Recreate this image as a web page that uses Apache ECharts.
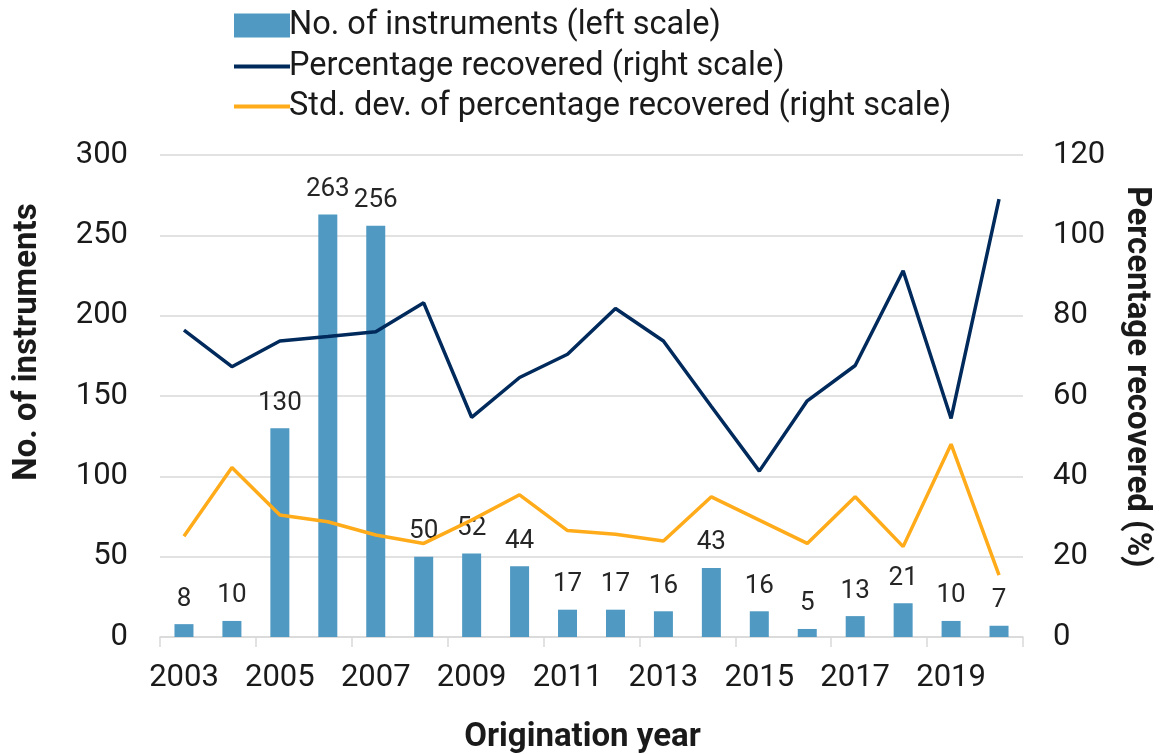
<!DOCTYPE html>
<html>
<head>
<meta charset="utf-8">
<title>Instruments and recovery by origination year</title>
<script src="https://cdn.jsdelivr.net/npm/echarts@6/dist/echarts.min.js"></script>
<style>
  html, body { margin: 0; padding: 0; background: #ffffff; }
  #chart { width: 1160px; height: 754px; }
</style>
</head>
<body>
<div id="chart"></div>
<script>
// Origination years
const years = ['2003','2004','2005','2006','2007','2008','2009','2010','2011',
               '2012','2013','2014','2015','2016','2017','2018','2019','2020'];

// Number of instruments (left scale)
const instruments = [8, 10, 130, 263, 256, 50, 52, 44, 17, 17, 16, 43, 16, 5, 13, 21, 10, 7];

// Percentage recovered (right scale, %)
const recovered = [76.4, 67.3, 73.7, 74.8, 76.0, 83.2, 54.7, 64.6, 70.4,
                   81.8, 73.7, 57.4, 41.3, 58.8, 67.6, 91.2, 54.4, 109.0];

// Standard deviation of percentage recovered (right scale, %)
const recoveredStdDev = [25.1, 42.2, 30.4, 28.7, 25.4, 23.3, 29.1, 35.4, 26.5,
                         25.6, 23.9, 34.9, 29.1, 23.3, 34.9, 22.5, 48.0, 15.4];

const seriesNames = [
  'No. of instruments (left scale)',
  'Percentage recovered (right scale)',
  'Std. dev. of percentage recovered (right scale)'
];

const FONT = 'Roboto, "Noto Sans", sans-serif';
const GRID_COLOR = '#d9d9d9';
const TEXT_COLOR = '#1a1a1a';
const BAR_COLOR = '#4f99c2';
const NAVY = '#002a5c';
const AMBER = '#ffab1a';

const legendText = { fontSize: 32.5, color: TEXT_COLOR, fontFamily: FONT, padding: [0, 0, 0, -6] };

const chart = echarts.init(document.getElementById('chart'), null, { renderer: 'canvas' });

chart.setOption({
  animation: false,
  backgroundColor: '#ffffff',
  textStyle: { fontFamily: FONT },
  legend: [
    {
      // bar entry: filled block
      orient: 'vertical',
      left: 229,
      top: 4,
      itemWidth: 56,
      itemHeight: 24,
      textStyle: legendText,
      data: [{ name: seriesNames[0], icon: 'rect' }]
    },
    {
      // line entries: flat strokes
      orient: 'vertical',
      left: 229,
      top: 45,
      itemWidth: 56,
      itemHeight: 4,
      itemGap: 7,
      textStyle: legendText,
      data: [
        { name: seriesNames[1], icon: 'rect' },
        { name: seriesNames[2], icon: 'rect' }
      ]
    }
  ],
  grid: {
    left: 160, right: 137, top: 155, bottom: 117,
    containLabel: false,
    outerBoundsMode: 'none'
  },
  xAxis: {
    type: 'category',
    data: years,
    name: 'Origination year',
    nameLocation: 'middle',
    nameGap: 84,
    nameTextStyle: { fontSize: 33, fontWeight: 'bold', color: TEXT_COLOR, padding: [0, 18, 0, 0] },
    axisLine: { lineStyle: { color: GRID_COLOR, width: 1.5 } },
    axisTick: { show: true, alignWithLabel: false, length: 10, lineStyle: { color: GRID_COLOR, width: 1.5 } },
    axisLabel: { interval: 1, fontSize: 31, color: TEXT_COLOR, margin: 26 }
  },
  yAxis: [
    {
      type: 'value',
      min: 0, max: 300, interval: 50,
      name: 'No. of instruments',
      nameLocation: 'middle',
      nameGap: 116,
      nameTextStyle: { fontSize: 33, fontWeight: 'bold', color: TEXT_COLOR, padding: [0, 0, 0, 108] },
      axisLine: { show: false },
      axisTick: { show: false },
      axisLabel: { fontSize: 31, color: TEXT_COLOR, margin: 32 },
      splitLine: { lineStyle: { color: GRID_COLOR, width: 1.5 } }
    },
    {
      type: 'value',
      min: 0, max: 120, interval: 20,
      name: 'Percentage recovered (%)',
      nameLocation: 'middle',
      nameGap: 97,
      nameRotate: -90,
      nameTextStyle: { fontSize: 33, fontWeight: 'bold', color: TEXT_COLOR, padding: [0, 38, 0, 0] },
      axisLine: { show: false },
      axisTick: { show: false },
      axisLabel: { fontSize: 31, color: TEXT_COLOR, margin: 30 },
      splitLine: { show: false }
    }
  ],
  series: [
    {
      name: seriesNames[0],
      type: 'bar',
      yAxisIndex: 0,
      data: instruments,
      barWidth: 19,
      itemStyle: { color: BAR_COLOR },
      label: {
        show: true,
        position: 'top',
        distance: 12,
        fontSize: 26,
        color: '#262626'
      },
      z: 2
    },
    {
      name: seriesNames[1],
      type: 'line',
      yAxisIndex: 1,
      data: recovered,
      symbol: 'none',
      lineStyle: { color: NAVY, width: 3.5 },
      itemStyle: { color: NAVY },
      z: 3
    },
    {
      name: seriesNames[2],
      type: 'line',
      yAxisIndex: 1,
      data: recoveredStdDev,
      symbol: 'none',
      lineStyle: { color: AMBER, width: 3.5 },
      itemStyle: { color: AMBER },
      z: 3
    }
  ]
});
</script>
</body>
</html>
